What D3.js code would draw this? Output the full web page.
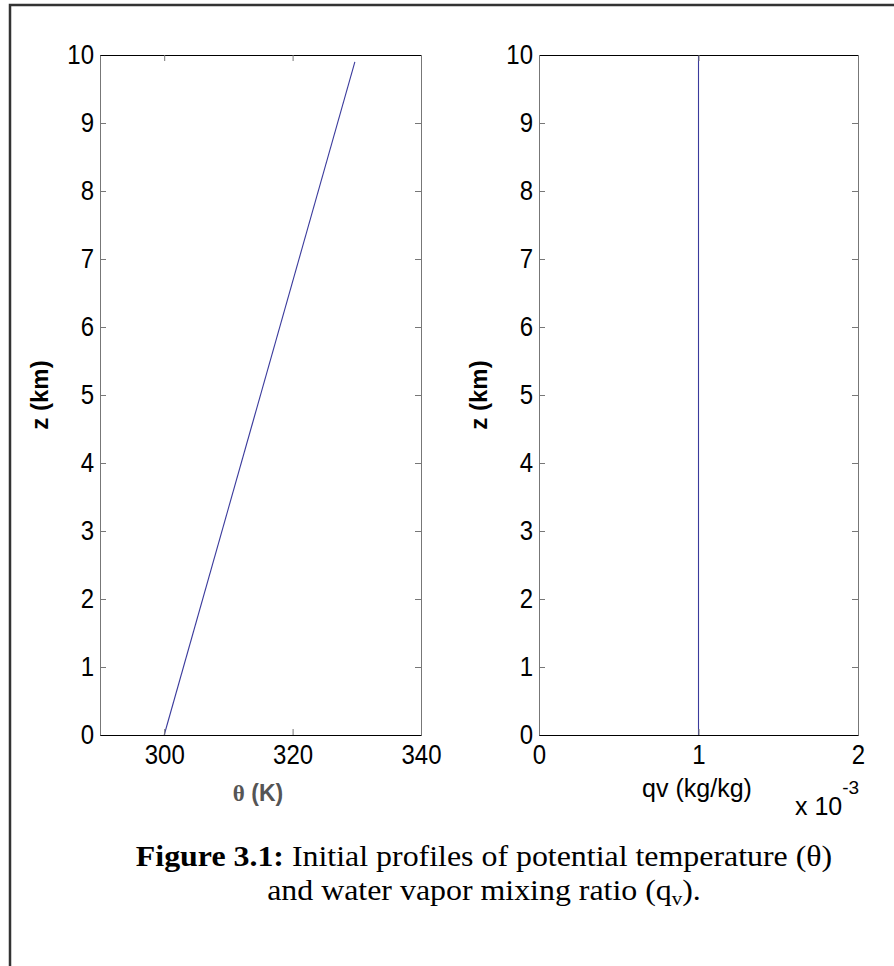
<!DOCTYPE html>
<html lang="en">
<head>
<meta charset="utf-8">
<script src="https://d3js.org/d3.v7.min.js"></script>
<title>Initial profiles</title>
<style>
  body { margin: 0; background: #fff; }
  svg { display: block; }
  .tick text { font-family: "Liberation Sans", Arial, sans-serif; font-size: 24px; fill: #000; }
</style>
</head>
<body>
<div id="chart"></div>
<script>
// data
const zTicks = [0, 1, 2, 3, 4, 5, 6, 7, 8, 9, 10];
const thetaTicks = [300, 320, 340];
const qvTicks = [0, 0.001, 0.002];
const qvTickLabels = ["0", "1", "2"];

// theta profile (K) vs height (km)
const thetaZ = [0, 9.9];
const thetaVals = [300, 329.7];

// water vapor mixing ratio (kg/kg) vs height (km)
const qvZ = [0, 10];
const qvVals = [0.001, 0.001];

const W = 894, H = 966;
const svg = d3.select("#chart").append("svg")
  .attr("width", W).attr("height", H);

svg.append("rect").attr("width", W).attr("height", H).attr("fill", "#fff");

// outer frame (only left and top edges visible)
svg.append("path")
  .attr("d", `M10,${H + 5} L10,5 L${W + 5},5`)
  .attr("fill", "none")
  .attr("stroke", "#333")
  .attr("stroke-width", 2.5);

const plotTop = 55, plotBottom = 735;
const panels = [
  { x0: 100, x1: 421, domain: [290, 340], ticks: thetaTicks, fmt: d => d, zs: thetaZ, vals: thetaVals },
  { x0: 539, x1: 858, domain: [0, 0.002], ticks: qvTicks, fmt: (d, i) => qvTickLabels[i], zs: qvZ, vals: qvVals }
];

const y = d3.scaleLinear().domain([0, 10]).range([plotBottom - plotTop, 0]);

panels.forEach(p => {
  const w = p.x1 - p.x0, h = plotBottom - plotTop;
  const g = svg.append("g").attr("transform", `translate(${p.x0},${plotTop})`);
  const x = d3.scaleLinear().domain(p.domain).range([0, w]);

  // profile line
  g.append("path")
    .datum(p.zs.map((z, i) => [p.vals[i], z]))
    .attr("fill", "none")
    .attr("stroke", "#3a3a9c")
    .attr("stroke-width", 1.1)
    .attr("d", d3.line().x(d => x(d[0])).y(d => y(d[1])));

  // axes, matlab style inward ticks on all four sides
  const left = g.append("g")
    .call(d3.axisLeft(y).tickValues(zTicks).tickSize(-6).tickSizeOuter(0).tickPadding(6));
  const right = g.append("g").attr("transform", `translate(${w},0)`)
    .call(d3.axisRight(y).tickValues(zTicks).tickSize(-6).tickSizeOuter(0).tickFormat(""));
  const bottom = g.append("g").attr("transform", `translate(0,${h})`)
    .call(d3.axisBottom(x).tickValues(p.ticks).tickSize(-6).tickSizeOuter(0).tickPadding(10).tickFormat(p.fmt));
  const top = g.append("g")
    .call(d3.axisTop(x).tickValues(p.ticks).tickSize(-6).tickSizeOuter(0).tickFormat(""));

  [left, right].forEach(a => a.select(".domain").attr("stroke", "#777"));
  [bottom, top].forEach(a => a.select(".domain").attr("stroke", "#000"));
  [left, right, bottom, top].forEach(a => {
    a.selectAll(".tick line").attr("stroke", "#777");
    a.attr("font-size", null).attr("font-family", null);
  });
  // the original glyphs are a bit taller than they are wide
  left.selectAll(".tick text").attr("transform", "scale(1,1.13)");
  bottom.selectAll(".tick text").attr("dy", "0.71em")
    .attr("transform", "scale(1,1.13)").attr("y", 9);

  // y label
  g.append("text")
    .attr("transform", `translate(${-52},${h / 2}) rotate(-90)`)
    .attr("text-anchor", "middle")
    .attr("font-family", "Liberation Sans, Arial, sans-serif")
    .attr("font-weight", "bold")
    .attr("font-size", 24)
    .text("z (km)");
});

// x labels
const xl1 = svg.append("text")
  .attr("x", 258).attr("y", 801)
  .attr("text-anchor", "middle")
  .attr("font-weight", "bold")
  .attr("font-size", 23)
  .attr("fill", "#555");
xl1.append("tspan").attr("font-family", "Liberation Serif, Times New Roman, serif").text("θ");
xl1.append("tspan").attr("font-family", "Liberation Sans, Arial, sans-serif").text(" (K)");

svg.append("text")
  .attr("x", 697).attr("y", 797)
  .attr("text-anchor", "middle")
  .attr("font-family", "Liberation Sans, Arial, sans-serif")
  .attr("font-size", 25)
  .text("qv (kg/kg)");

// exponent label
const ex = svg.append("text")
  .attr("x", 795).attr("y", 815)
  .attr("font-family", "Liberation Sans, Arial, sans-serif")
  .attr("font-size", 25);
ex.append("tspan").text("x 10");
ex.append("tspan").attr("font-size", 19).attr("dy", -21).text("-3");

// caption, slightly widened like the scanned original
const cap1 = svg.append("text")
  .attr("transform", "translate(484,866) scale(1.1,1)")
  .attr("text-anchor", "middle")
  .attr("font-family", "Liberation Serif, Times New Roman, serif")
  .attr("font-size", 29);
cap1.append("tspan").attr("font-weight", "bold").text("Figure 3.1:");
cap1.append("tspan").text(" Initial profiles of potential temperature (θ)");

const cap2 = svg.append("text")
  .attr("transform", "translate(484,900) scale(1.1,1)")
  .attr("text-anchor", "middle")
  .attr("font-family", "Liberation Serif, Times New Roman, serif")
  .attr("font-size", 29);
cap2.append("tspan").text("and water vapor mixing ratio (q");
cap2.append("tspan").attr("font-size", 19).attr("dy", 5).text("v");
cap2.append("tspan").attr("dy", -5).text(").");
</script>
</body>
</html>
